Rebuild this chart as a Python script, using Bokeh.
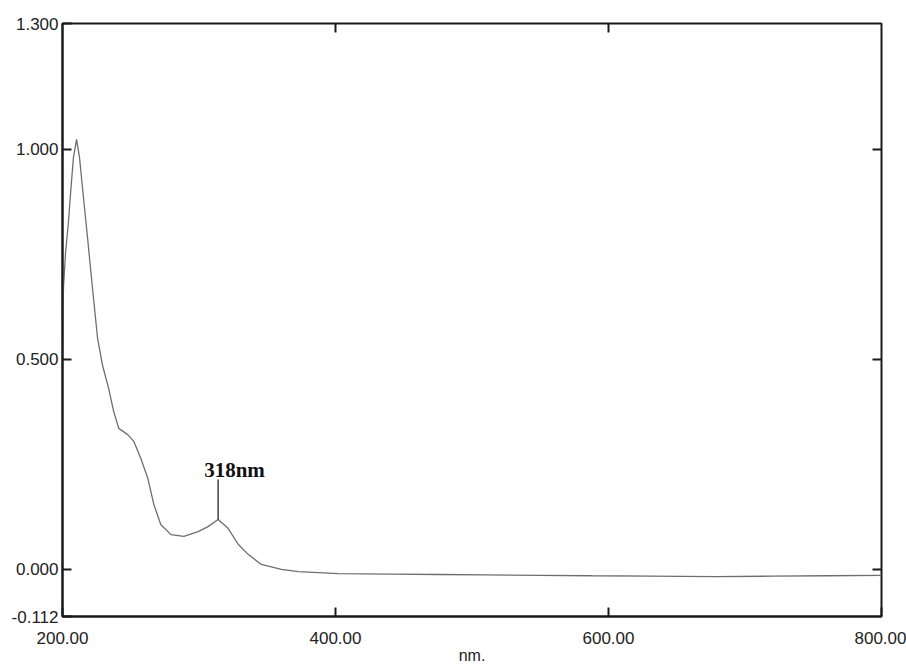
import math
from bokeh.plotting import figure
from bokeh.models import (LinearAxis, FixedTicker, NumeralTickFormatter, Range1d)
from bokeh.core.properties import value
from bokeh.embed import file_html
from bokeh.resources import INLINE

# ---- data ----
wavelength = [200, 200.7, 202.2, 204.4, 206.0, 208.0, 210.3, 212.5, 214.7, 218.4,
              222.0, 225.7, 229.4, 233.8, 237.5, 241.2, 247.8, 252.2, 257.4, 262.5,
              266.9, 272.0, 279.4, 289.0, 299.3, 306.6, 314.0, 321.3, 328.7, 336.0,
              345.6, 360.3, 372.8, 402.0, 440.0, 475.7, 510.0, 549.0, 588.0, 630.0,
              678.7, 720.0, 760.0, 800.0]
absorbance = [0.50, 0.67, 0.753, 0.829, 0.90, 0.98, 1.024, 0.98, 0.907, 0.788,
              0.669, 0.55, 0.485, 0.431, 0.376, 0.336, 0.321, 0.305, 0.264, 0.217,
              0.155, 0.107, 0.083, 0.079, 0.090, 0.102, 0.119, 0.098, 0.060, 0.036,
              0.012, 0.000, -0.005, -0.010, -0.011, -0.012, -0.013, -0.014, -0.015, -0.016,
              -0.017, -0.016, -0.015, -0.014]

x_ticks = [200, 400, 600, 800]
y_ticks = [-0.112, 0.0, 0.5, 1.0, 1.3]
x_min, x_max = 200, 800
y_min, y_max = -0.112, 1.3
peak_nm = 314.0
peak_abs = 0.119
peak_label = "318nm"
x_label = "nm."

FONT = "Liberation Sans"
AX = "#1a1a1a"

p = figure(width=906, height=670, output_backend="svg", toolbar_location=None,
           x_range=Range1d(x_min, x_max), y_range=Range1d(y_min, y_max),
           x_axis_type=None, y_axis_type=None,
           min_border_left=62, min_border_right=25, min_border_top=23, min_border_bottom=54)
p.background_fill_color = "white"
p.border_fill_color = "white"
p.outline_line_color = AX
p.outline_line_width = 2
p.xgrid.visible = False
p.ygrid.visible = False

def style(ax, ticks, fmt, standoff):
    ax.ticker = FixedTicker(ticks=ticks)
    ax.formatter = NumeralTickFormatter(format=fmt)
    ax.major_tick_in = 9
    ax.major_tick_out = 0
    ax.minor_tick_in = 0
    ax.minor_tick_out = 0
    ax.axis_line_color = AX
    ax.axis_line_width = 2
    ax.major_tick_line_color = AX
    ax.major_tick_line_width = 2
    ax.major_label_text_font = FONT
    ax.major_label_text_color = "#222222"
    ax.major_label_standoff = standoff
    ax.major_label_text_font_size = "17px"

bottom = LinearAxis()
style(bottom, x_ticks, "0.00", standoff=15)
bottom.axis_label = x_label
bottom.axis_label_text_font = FONT
bottom.axis_label_text_font_size = "16px"
bottom.axis_label_text_font_style = "normal"
bottom.axis_label_standoff = 0
bottom.axis_label_text_color = "#222222"
p.add_layout(bottom, "below")

left = LinearAxis()
style(left, y_ticks, "0.000", standoff=4)
p.add_layout(left, "left")

# inner tick marks on the top and right frame edges (clipped to the frame)
top_ticks = [t for t in x_ticks if x_min < t < x_max]
right_ticks = [t for t in y_ticks if y_min < t < y_max]
p.scatter(x=top_ticks, y=[y_max] * len(top_ticks), marker="dash", size=18,
          angle=math.pi / 2, line_color=AX, line_width=2)
p.scatter(x=[x_max] * len(right_ticks), y=right_ticks, marker="dash", size=18,
          line_color=AX, line_width=2)

# spectrum
p.line(wavelength, absorbance, line_color="#6e6e6e", line_width=1.3)

# peak annotation
p.segment(x0=[peak_nm], y0=[peak_abs], x1=[peak_nm], y1=[peak_abs + 0.095],
          line_color="#111111", line_width=1.2)
p.text(x=[peak_nm + 12], y=[peak_abs + 0.118], text=[peak_label],
       text_font=value("Liberation Serif"), text_font_style="bold",
       text_font_size="21px", text_align="center", text_baseline="alphabetic",
       text_color="#111111")

open("out.html", "w").write(file_html(p, INLINE))
